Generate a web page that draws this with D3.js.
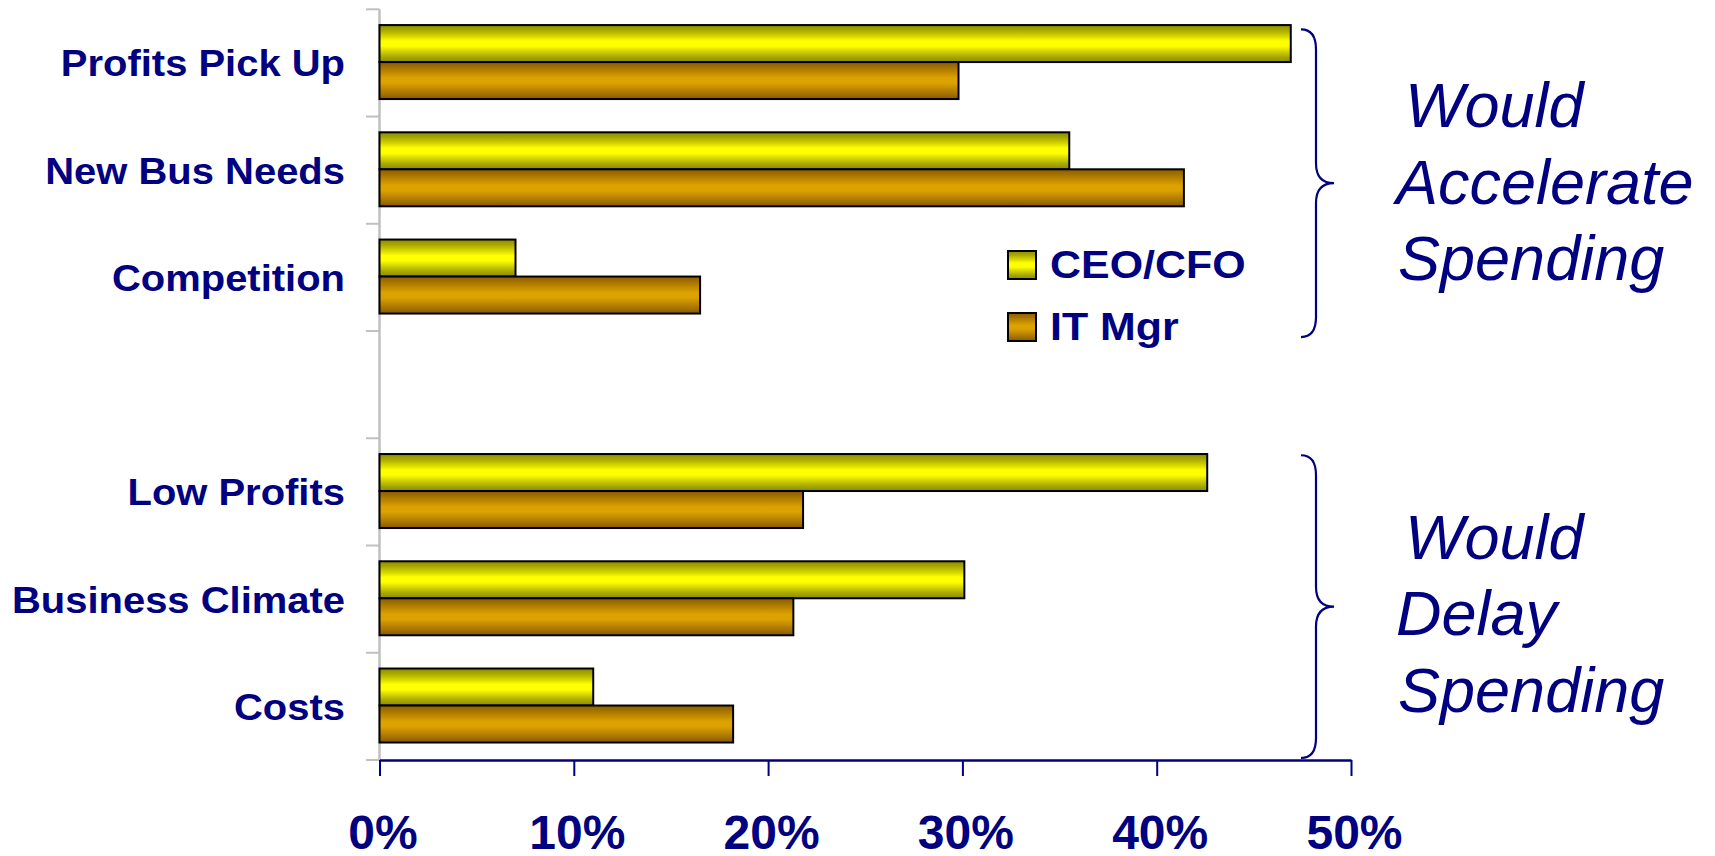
<!DOCTYPE html>
<html>
<head>
<meta charset="utf-8">
<script src="https://cdn.jsdelivr.net/npm/d3@7"></script>
<style>
  html, body { margin: 0; padding: 0; background: #ffffff; }
  svg { display: block; }
  text { font-family: "Liberation Sans", Arial, sans-serif; }
</style>
</head>
<body>
<svg id="chart" width="1715" height="856"></svg>
<script>
// Survey drivers of IT spending, CEO/CFO vs IT managers (share of respondents).
// An empty category separates the "accelerate" group from the "delay" group.
const categories = ["Profits Pick Up", "New Bus Needs", "Competition", "", "Low Profits", "Business Climate", "Costs"];
const seriesNames = ["CEO/CFO", "IT Mgr"];
const ceoValues = [0.469, 0.355, 0.070, null, 0.426, 0.301, 0.110];
const itValues  = [0.298, 0.414, 0.165, null, 0.218, 0.213, 0.182];
const tickValues = [0, 0.1, 0.2, 0.3, 0.4, 0.5];
const groupNotes = [
  { lines: ["Would", "Accelerate", "Spending"], from: 0, to: 2 },
  { lines: ["Would", "Delay", "Spending"], from: 4, to: 6 }
];

const navy = "#000080";
const svg = d3.select("#chart");

const x = d3.scaleLinear().domain([0, 0.5]).range([379.5, 1351]);
const y = d3.scaleBand().domain(categories).range([9.3, 760]).padding(0);
const bw = y.bandwidth();
const inner = d3.scaleBand().domain(seriesNames).range([bw * 0.147, bw * 0.837]).padding(0);

// Banded metallic gradients for the two series
const defs = svg.append("defs");
const gradSpecs = [
  { id: "g-ceo", stops: ["#8c8c00", "#a8a800", "#d6d600", "#ffff00", "#ffff00", "#d6d600", "#a8a800", "#8a8a00"] },
  { id: "g-it",  stops: ["#8c5c00", "#a47200", "#c48c00", "#dba200", "#dba200", "#c48c00", "#a47200", "#885800"] }
];
const offs = [0, 0.14, 0.3, 0.43, 0.57, 0.7, 0.86, 1];
gradSpecs.forEach(g => {
  const lg = defs.append("linearGradient").attr("id", g.id)
    .attr("x1", 0).attr("y1", 0).attr("x2", 0).attr("y2", 1);
  g.stops.forEach((c, i) => lg.append("stop").attr("offset", offs[i]).attr("stop-color", c));
});
const fillFor = { "CEO/CFO": "url(#g-ceo)", "IT Mgr": "url(#g-it)" };

// Category axis (grey) with ticks at band boundaries
const bounds = categories.map(c => y(c)).concat([y.range()[1]]);
svg.append("line")
  .attr("x1", x(0)).attr("x2", x(0))
  .attr("y1", y.range()[0]).attr("y2", y.range()[1])
  .attr("stroke", "#c0c0c0").attr("stroke-width", 2.5);
svg.append("g").selectAll("line").data(bounds).join("line")
  .attr("x1", x(0) - 13.5).attr("x2", x(0))
  .attr("y1", d => d).attr("y2", d => d)
  .attr("stroke", "#c0c0c0").attr("stroke-width", 2);

// Bars
const rows = categories.map((c, i) => ({ cat: c, vals: [ceoValues[i], itValues[i]] }))
  .filter(r => r.cat !== "");
const barG = svg.append("g");
rows.forEach(r => {
  r.vals.forEach((v, j) => {
    const s = seriesNames[j];
    barG.append("rect")
      .attr("x", x(0))
      .attr("y", y(r.cat) + inner(s))
      .attr("width", x(v) - x(0))
      .attr("height", inner.bandwidth())
      .attr("fill", fillFor[s])
      .attr("stroke", "#000").attr("stroke-width", 2);
  });
});

// Category labels
svg.append("g").selectAll("text").data(rows).join("text")
  .attr("transform", d => `translate(345,${y(d.cat) + bw / 2 + 13.5}) scale(1.08,1)`)
  .attr("text-anchor", "end")
  .attr("font-size", 37).attr("font-weight", "bold")
  .attr("fill", navy)
  .text(d => d.cat);

// Value axis
const xAxis = d3.axisBottom(x).tickValues(tickValues)
  .tickFormat(d3.format(".0%")).tickSizeInner(16).tickSizeOuter(0);
const ax = svg.append("g").attr("transform", `translate(0,${y.range()[1]})`).call(xAxis);
ax.select(".domain").attr("stroke", navy).attr("stroke-width", 2.5);
ax.selectAll(".tick line").attr("stroke", navy).attr("stroke-width", 2);
ax.selectAll(".tick text")
  .attr("y", 89).attr("dy", 0).attr("dx", 3)
  .attr("fill", navy).attr("font-size", 48).attr("font-weight", "bold")
  .attr("font-family", "\"Liberation Sans\", Arial, sans-serif");

// Legend
const legend = svg.append("g").attr("transform", "translate(1008,251)");
seriesNames.forEach((s, i) => {
  const g = legend.append("g").attr("transform", `translate(0,${i * 62})`);
  g.append("rect").attr("width", 28).attr("height", 28)
    .attr("fill", fillFor[s]).attr("stroke", "#000").attr("stroke-width", 2);
  g.append("text")
    .attr("transform", "translate(42,27) scale(1.13,1)")
    .attr("font-size", 38).attr("font-weight", "bold").attr("fill", navy)
    .text(s);
});

// Curly braces and group notes on the right
function bracePath(xl, xv, xt, y0, y1) {
  const ym = (y0 + y1) / 2;
  return `M${xl},${y0} Q${xv},${y0} ${xv},${y0 + 20} L${xv},${ym - 20} ` +
         `Q${xv},${ym} ${xt},${ym} Q${xv},${ym} ${xv},${ym + 20} ` +
         `L${xv},${y1 - 20} Q${xv},${y1} ${xl},${y1}`;
}
groupNotes.forEach((n, k) => {
  const y0 = y(categories[n.from]) + (k === 0 ? 20 : 17);
  const y1 = k === 0 ? y(categories[n.to]) + bw + 6 : y.range()[1] - 2;
  svg.append("path")
    .attr("d", bracePath(1301, 1316, 1334, y0, y1))
    .attr("fill", "none").attr("stroke", navy).attr("stroke-width", 2.2);
  const base = (y0 + y1) / 2 - (k === 0 ? 56 : 48);
  const xs = [1405, 1396, 1398];
  n.lines.forEach((t, i) => {
    svg.append("text")
      .attr("x", xs[i]).attr("y", base + i * 76.5)
      .attr("font-size", 63).attr("font-style", "italic")
      .attr("fill", navy)
      .text(t);
  });
});
</script>
</body>
</html>
